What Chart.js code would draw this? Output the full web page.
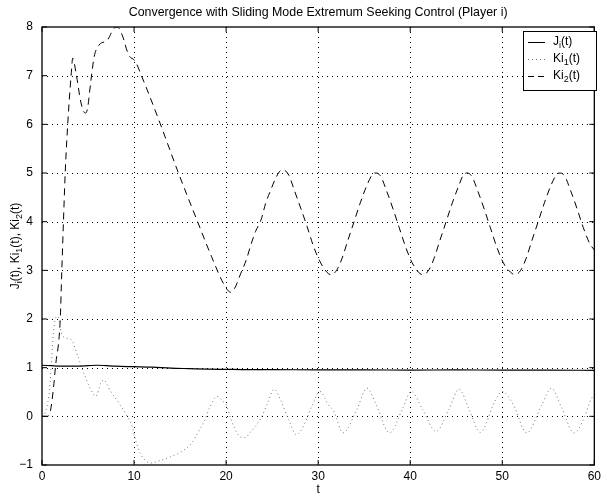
<!DOCTYPE html>
<html>
<head>
<meta charset="utf-8">
<script src="https://cdn.jsdelivr.net/npm/chart.js@4.4.1/dist/chart.umd.min.js"></script>
<style>
    html, body { margin: 0; padding: 0; background: #fff; }
    canvas { display: block; }
</style>
</head>
<body>
<canvas id="chart" width="605" height="496"></canvas>
<script>
// values
const tJ = [0, 1, 2, 3, 4, 5, 6, 7, 8, 10, 12, 14, 16, 18, 20, 22, 25, 30, 35, 40, 45, 50, 55, 60];
const jValues = [1.05, 1.04, 1.03, 1.03, 1.03, 1.04, 1.05, 1.04, 1.03, 1.02, 1.01, 0.99, 0.98, 0.97, 0.965, 0.96, 0.96, 0.955, 0.955, 0.95, 0.955, 0.95, 0.95, 0.945];

const tKi1 = [0, 0.4, 0.65, 0.83, 1.0, 1.18, 1.47, 1.72, 2.1, 2.6, 3.2, 3.9, 4.6, 5.3, 5.85, 6.4, 6.67, 7.47, 8.36, 9.25, 9.8, 10.15, 10.7, 11.2, 11.77, 12.65, 14.1, 15.2, 16.25, 17.15, 17.7, 18.2, 19.0, 19.65, 20.0, 20.55, 21.3, 22.0, 22.7, 23.8, 24.5, 25.2, 25.9, 26.8, 27.65, 28.4, 29.3, 30.2, 31.1, 31.7, 32.7, 34.2, 35.3, 36.3, 37.75, 39.2, 40.1, 41.35, 42.8, 44.2, 45.3, 46.4, 47.6, 49.2, 50.0, 51.2, 52.65, 54.3, 55.35, 56.4, 57.8, 58.9, 59.6, 60];
const ki1Values = [0, 0.1, 0.3, 0.55, 1.03, 1.57, 2.02, 2.05, 1.71, 1.61, 1.57, 1.23, 0.86, 0.55, 0.41, 0.69, 0.75, 0.51, 0.27, 0.0, -0.21, -0.48, -0.77, -0.9, -0.96, -0.92, -0.82, -0.72, -0.55, -0.27, -0.07, 0.17, 0.41, 0.31, 0.24, -0.07, -0.38, -0.44, -0.31, -0.03, 0.27, 0.56, 0.34, -0.07, -0.38, -0.2, 0.2, 0.51, 0.24, 0.1, -0.34, 0.14, 0.58, 0.24, -0.34, 0.17, 0.51, 0.14, -0.31, 0.14, 0.56, 0.14, -0.33, 0.31, 0.51, 0.24, -0.34, 0.24, 0.58, 0.2, -0.34, -0.03, 0.34, 0.45];

const tKi2 = [0, 0.5, 0.83, 1.2, 1.47, 1.98, 2.15, 2.33, 2.52, 2.8, 3.16, 3.34, 3.7, 4.24, 4.7, 4.95, 5.3, 5.67, 6.2, 7.1, 7.8, 8.2, 8.7, 9.4, 10.15, 10.8, 11.4, 12.85, 14.8, 16.9, 18.4, 19.8, 20.5, 20.9, 21.6, 22.2, 22.7, 23.2, 23.8, 24.3, 24.85, 25.4, 26.1, 26.8, 27.4, 28.1, 28.8, 29.5, 30.2, 30.95, 31.4, 32.0, 32.6, 33.2, 33.9, 34.6, 35.3, 35.9, 36.3, 36.8, 37.4, 38.1, 38.8, 39.5, 40.2, 40.9, 41.4, 42.0, 42.6, 43.2, 43.9, 44.6, 45.3, 45.8, 46.2, 46.7, 47.3, 48.0, 48.7, 49.4, 50.1, 50.9, 51.4, 52.0, 52.6, 53.2, 53.9, 54.6, 55.3, 55.9, 56.3, 56.8, 57.4, 58.1, 58.8, 59.5, 60];
const ki2Values = [0, 0, 0.05, 0.5, 1.03, 1.99, 2.98, 4.0, 5.0, 6.02, 7.0, 7.36, 7.05, 6.44, 6.23, 6.33, 6.88, 7.39, 7.63, 7.73, 7.97, 8.0, 7.84, 7.43, 7.29, 7.0, 6.72, 6.01, 5.01, 4.0, 3.29, 2.7, 2.55, 2.62, 2.94, 3.22, 3.53, 3.8, 4.04, 4.38, 4.65, 4.9, 5.07, 4.96, 4.65, 4.28, 3.9, 3.49, 3.18, 2.96, 2.91, 3.0, 3.25, 3.6, 4.0, 4.4, 4.75, 4.97, 5.0, 4.93, 4.65, 4.28, 3.88, 3.48, 3.16, 2.96, 2.91, 3.0, 3.25, 3.6, 4.0, 4.4, 4.75, 4.97, 5.0, 4.93, 4.65, 4.28, 3.88, 3.48, 3.16, 2.96, 2.91, 3.0, 3.25, 3.6, 4.0, 4.4, 4.75, 4.97, 5.0, 4.93, 4.65, 4.28, 3.88, 3.55, 3.42];

const xTicks = [0, 10, 20, 30, 40, 50, 60];
const yTicks = [-1, 0, 1, 2, 3, 4, 5, 6, 7, 8];

const FONT = "'Liberation Sans', Arial, sans-serif";
const zip = (xs, ys) => xs.map((x, i) => ({ x: x, y: ys[i] }));

// draw text made of [string, isSubscript] pieces, starting at x
function drawRich(ctx, parts, x, y, size) {
    let w = 0;
    parts.forEach(([s, sub]) => {
        ctx.font = (sub ? size * 0.75 : size) + 'px ' + FONT;
        ctx.fillText(s, x + w, y + (sub ? size * 0.3 : 0));
        w += ctx.measureText(s).width;
    });
    return w;
}
function richWidth(ctx, parts, size) {
    let w = 0;
    parts.forEach(([s, sub]) => {
        ctx.font = (sub ? size * 0.75 : size) + 'px ' + FONT;
        w += ctx.measureText(s).width;
    });
    return w;
}

const legendItems = [
    { parts: [['J', 0], ['i', 1], ['(t)', 0]], color: '#000', dash: [], width: 1 },
    { parts: [['Ki', 0], ['1', 1], ['(t)', 0]], color: '#777', dash: [1, 3], width: 1 },
    { parts: [['Ki', 0], ['2', 1], ['(t)', 0]], color: '#000', dash: [6, 4], width: 1 }
];

const matlabAxes = {
    id: 'matlabAxes',
    beforeDatasetsDraw(chart) {
        const { ctx, chartArea: a, scales: { x, y } } = chart;
        ctx.save();
        ctx.strokeStyle = '#000';
        ctx.lineWidth = 1;
        ctx.setLineDash([1, 4]);
        xTicks.slice(1, -1).forEach(v => {
            const px = Math.round(x.getPixelForValue(v)) + 0.5;
            ctx.beginPath(); ctx.moveTo(px, a.top); ctx.lineTo(px, a.bottom); ctx.stroke();
        });
        yTicks.slice(1, -1).forEach(v => {
            const py = Math.round(y.getPixelForValue(v)) + 0.5;
            ctx.beginPath(); ctx.moveTo(a.left, py); ctx.lineTo(a.right, py); ctx.stroke();
        });
        ctx.restore();
    },
    afterDatasetsDraw(chart) {
        const { ctx, chartArea: a, scales: { x, y } } = chart;
        ctx.save();
        ctx.strokeStyle = '#000';
        ctx.lineWidth = 1.3;
        ctx.setLineDash([]);
        ctx.strokeRect(a.left, a.top, a.right - a.left, a.bottom - a.top);
        const tl = 5;
        ctx.lineWidth = 1;
        ctx.beginPath();
        xTicks.forEach(v => {
            const px = x.getPixelForValue(v);
            ctx.moveTo(px, a.bottom); ctx.lineTo(px, a.bottom - tl);
            ctx.moveTo(px, a.top); ctx.lineTo(px, a.top + tl);
        });
        yTicks.forEach(v => {
            const py = y.getPixelForValue(v);
            ctx.moveTo(a.left, py); ctx.lineTo(a.left + tl, py);
            ctx.moveTo(a.right, py); ctx.lineTo(a.right - tl, py);
        });
        ctx.stroke();

        // legend box, top right
        const bx = 523.5, by = 31.5, bw = 73, bh = 59;
        ctx.fillStyle = '#fff';
        ctx.fillRect(bx, by, bw, bh);
        ctx.strokeRect(bx, by, bw, bh);
        const rows = [42, 59, 76];
        ctx.textBaseline = 'middle';
        ctx.textAlign = 'left';
        legendItems.forEach((it, i) => {
            ctx.save();
            ctx.strokeStyle = it.color;
            ctx.lineWidth = it.width;
            ctx.setLineDash(it.dash);
            ctx.beginPath(); ctx.moveTo(528, rows[i] + 0.5); ctx.lineTo(545, rows[i] + 0.5); ctx.stroke();
            ctx.restore();
            ctx.fillStyle = '#000';
            drawRich(ctx, it.parts, 553, rows[i], 12);
        });
        ctx.restore();
    },
    afterDraw(chart) {
        const { ctx, chartArea: a } = chart;
        ctx.save();
        ctx.fillStyle = '#000';
        ctx.textBaseline = 'middle';
        ctx.textAlign = 'center';
        ctx.font = '12.4px ' + FONT;
        ctx.fillText('Convergence with Sliding Mode Extremum Seeking Control (Player i)', (a.left + a.right) / 2, 13);
        ctx.font = '12px ' + FONT;
        ctx.fillText('t', (a.left + a.right) / 2, 490);

        // rotated y label with subscripts
        const parts = [['J', 0], ['i', 1], ['(t), Ki', 0], ['1', 1], ['(t), Ki', 0], ['2', 1], ['(t)', 0]];
        ctx.textAlign = 'left';
        const w = richWidth(ctx, parts, 12);
        ctx.translate(16, (a.top + a.bottom) / 2);
        ctx.rotate(-Math.PI / 2);
        drawRich(ctx, parts, -w / 2, 0, 12);
        ctx.restore();
    }
};

new Chart(document.getElementById('chart'), {
    type: 'line',
    data: {
        datasets: [
            {
                label: 'Ji(t)',
                data: zip(tJ, jValues),
                borderColor: '#000',
                borderWidth: 1.2,
                pointRadius: 0,
                cubicInterpolationMode: 'monotone'
            },
            {
                label: 'Ki1(t)',
                data: zip(tKi1, ki1Values),
                borderColor: '#777',
                borderWidth: 1,
                borderDash: [1, 3],
                pointRadius: 0,
                cubicInterpolationMode: 'monotone'
            },
            {
                label: 'Ki2(t)',
                data: zip(tKi2, ki2Values),
                borderColor: '#000',
                borderWidth: 1,
                borderDash: [7, 5],
                pointRadius: 0,
                cubicInterpolationMode: 'monotone'
            }
        ]
    },
    options: {
        responsive: false,
        animation: false,
        devicePixelRatio: 1,
        layout: { padding: { top: 27, right: 5, left: 0, bottom: 0 } },
        plugins: {
            legend: { display: false },
            title: { display: false },
            tooltip: { enabled: false }
        },
        scales: {
            x: {
                type: 'linear',
                min: 0,
                max: 60,
                grid: { display: false, drawTicks: false },
                border: { display: false },
                afterBuildTicks: s => { s.ticks = xTicks.map(v => ({ value: v })); },
                afterFit: s => { s.height = 31; },
                ticks: {
                    color: '#000',
                    padding: 4,
                    maxRotation: 0,
                    autoSkip: false,
                    font: { family: FONT, size: 12 }
                }
            },
            y: {
                type: 'linear',
                min: -1,
                max: 8,
                grid: { display: false, drawTicks: false },
                border: { display: false },
                afterBuildTicks: s => { s.ticks = yTicks.map(v => ({ value: v })); },
                afterFit: s => { s.width = 42; },
                ticks: {
                    color: '#000',
                    padding: 9,
                    autoSkip: false,
                    font: { family: FONT, size: 12 },
                    callback: v => v < 0 ? '\u2212' + Math.abs(v) : String(v)
                }
            }
        }
    },
    plugins: [matlabAxes]
});
</script>
</body>
</html>
